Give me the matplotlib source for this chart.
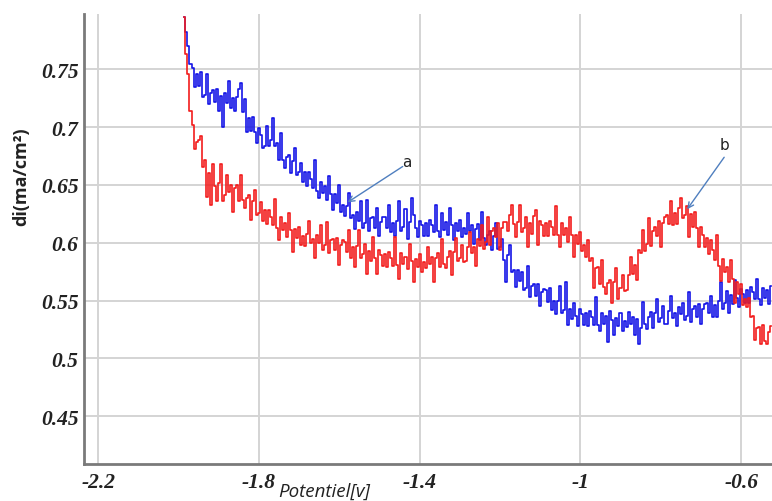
import matplotlib
matplotlib.use("Agg")
import matplotlib.pyplot as plt

# Potential sweep (V)
potential = [
    -1.985, -1.980, -1.975, -1.970, -1.965, -1.960, -1.955, -1.950, -1.945, -1.940,
    -1.935, -1.930, -1.925, -1.920, -1.915, -1.910, -1.905, -1.900, -1.895, -1.890,
    -1.885, -1.880, -1.875, -1.870, -1.865, -1.860, -1.855, -1.850, -1.845, -1.840,
    -1.835, -1.830, -1.825, -1.820, -1.815, -1.810, -1.805, -1.800, -1.795, -1.790,
    -1.785, -1.780, -1.775, -1.770, -1.765, -1.760, -1.755, -1.750, -1.745, -1.740,
    -1.735, -1.730, -1.725, -1.720, -1.715, -1.710, -1.705, -1.700, -1.695, -1.690,
    -1.685, -1.680, -1.675, -1.670, -1.665, -1.660, -1.655, -1.650, -1.645, -1.640,
    -1.635, -1.630, -1.625, -1.620, -1.615, -1.610, -1.605, -1.600, -1.595, -1.590,
    -1.585, -1.580, -1.575, -1.570, -1.565, -1.560, -1.555, -1.550, -1.545, -1.540,
    -1.535, -1.530, -1.525, -1.520, -1.515, -1.510, -1.505, -1.500, -1.495, -1.490,
    -1.485, -1.480, -1.475, -1.470, -1.465, -1.460, -1.455, -1.450, -1.445, -1.440,
    -1.435, -1.430, -1.425, -1.420, -1.415, -1.410, -1.405, -1.400, -1.395, -1.390,
    -1.385, -1.380, -1.375, -1.370, -1.365, -1.360, -1.355, -1.350, -1.345, -1.340,
    -1.335, -1.330, -1.325, -1.320, -1.315, -1.310, -1.305, -1.300, -1.295, -1.290,
    -1.285, -1.280, -1.275, -1.270, -1.265, -1.260, -1.255, -1.250, -1.245, -1.240,
    -1.235, -1.230, -1.225, -1.220, -1.215, -1.210, -1.205, -1.200, -1.195, -1.190,
    -1.185, -1.180, -1.175, -1.170, -1.165, -1.160, -1.155, -1.150, -1.145, -1.140,
    -1.135, -1.130, -1.125, -1.120, -1.115, -1.110, -1.105, -1.100, -1.095, -1.090,
    -1.085, -1.080, -1.075, -1.070, -1.065, -1.060, -1.055, -1.050, -1.045, -1.040,
    -1.035, -1.030, -1.025, -1.020, -1.015, -1.010, -1.005, -1.000, -0.995, -0.990,
    -0.985, -0.980, -0.975, -0.970, -0.965, -0.960, -0.955, -0.950, -0.945, -0.940,
    -0.935, -0.930, -0.925, -0.920, -0.915, -0.910, -0.905, -0.900, -0.895, -0.890,
    -0.885, -0.880, -0.875, -0.870, -0.865, -0.860, -0.855, -0.850, -0.845, -0.840,
    -0.835, -0.830, -0.825, -0.820, -0.815, -0.810, -0.805, -0.800, -0.795, -0.790,
    -0.785, -0.780, -0.775, -0.770, -0.765, -0.760, -0.755, -0.750, -0.745, -0.740,
    -0.735, -0.730, -0.725, -0.720, -0.715, -0.710, -0.705, -0.700, -0.695, -0.690,
    -0.685, -0.680, -0.675, -0.670, -0.665, -0.660, -0.655, -0.650, -0.645, -0.640,
    -0.635, -0.630, -0.625, -0.620, -0.615, -0.610, -0.605, -0.600, -0.595, -0.590,
    -0.585, -0.580, -0.575, -0.570, -0.565, -0.560, -0.555, -0.550, -0.545, -0.540,
    -0.535, -0.530, -0.525,
]

# curve b (red)
current_b = [
    0.795, 0.763, 0.746, 0.714, 0.702, 0.681, 0.687, 0.689, 0.692, 0.666,
    0.672, 0.640, 0.660, 0.633, 0.668, 0.649, 0.636, 0.652, 0.668, 0.636,
    0.641, 0.659, 0.644, 0.650, 0.627, 0.647, 0.650, 0.636, 0.659, 0.637,
    0.630, 0.639, 0.641, 0.620, 0.636, 0.646, 0.624, 0.626, 0.635, 0.619,
    0.628, 0.616, 0.628, 0.622, 0.615, 0.638, 0.613, 0.602, 0.622, 0.611,
    0.617, 0.605, 0.626, 0.611, 0.592, 0.612, 0.604, 0.614, 0.598, 0.606,
    0.597, 0.608, 0.619, 0.600, 0.603, 0.587, 0.607, 0.600, 0.615, 0.594,
    0.598, 0.618, 0.591, 0.602, 0.603, 0.594, 0.604, 0.581, 0.598, 0.602,
    0.601, 0.592, 0.611, 0.587, 0.596, 0.579, 0.597, 0.611, 0.587, 0.590,
    0.599, 0.573, 0.593, 0.584, 0.605, 0.587, 0.573, 0.594, 0.589, 0.580,
    0.590, 0.579, 0.592, 0.587, 0.580, 0.605, 0.581, 0.569, 0.591, 0.582,
    0.588, 0.577, 0.599, 0.584, 0.566, 0.586, 0.579, 0.590, 0.575, 0.583,
    0.578, 0.596, 0.582, 0.588, 0.566, 0.587, 0.591, 0.579, 0.603, 0.582,
    0.578, 0.588, 0.593, 0.572, 0.592, 0.604, 0.584, 0.587, 0.598, 0.583,
    0.584, 0.596, 0.609, 0.591, 0.596, 0.580, 0.603, 0.597, 0.615, 0.595,
    0.601, 0.622, 0.598, 0.610, 0.613, 0.605, 0.617, 0.594, 0.613, 0.618,
    0.618, 0.610, 0.624, 0.633, 0.616, 0.605, 0.618, 0.633, 0.609, 0.613,
    0.622, 0.596, 0.617, 0.608, 0.623, 0.628, 0.598, 0.619, 0.615, 0.606,
    0.617, 0.606, 0.619, 0.614, 0.607, 0.632, 0.607, 0.596, 0.617, 0.607,
    0.613, 0.601, 0.622, 0.607, 0.588, 0.607, 0.599, 0.609, 0.593, 0.598,
    0.588, 0.602, 0.584, 0.587, 0.561, 0.578, 0.579, 0.564, 0.585, 0.562,
    0.556, 0.565, 0.568, 0.548, 0.566, 0.578, 0.551, 0.561, 0.572, 0.558,
    0.559, 0.572, 0.588, 0.573, 0.581, 0.568, 0.594, 0.591, 0.611, 0.593,
    0.599, 0.621, 0.597, 0.610, 0.614, 0.606, 0.619, 0.596, 0.617, 0.622,
    0.624, 0.616, 0.636, 0.615, 0.626, 0.616, 0.630, 0.639, 0.621, 0.624,
    0.632, 0.605, 0.625, 0.614, 0.627, 0.613, 0.596, 0.614, 0.607, 0.596,
    0.604, 0.590, 0.602, 0.594, 0.585, 0.607, 0.580, 0.567, 0.586, 0.575,
    0.579, 0.566, 0.585, 0.569, 0.548, 0.566, 0.556, 0.564, 0.546, 0.551,
    0.544, 0.552, 0.536, 0.537, 0.516, 0.526, 0.527, 0.512, 0.529, 0.515,
    0.512, 0.523, 0.528,
]

# curve a (blue)
current_a = [
    0.795, 0.782, 0.770, 0.755, 0.751, 0.735, 0.746, 0.736, 0.748, 0.726,
    0.728, 0.746, 0.720, 0.730, 0.732, 0.722, 0.733, 0.714, 0.727, 0.700,
    0.730, 0.721, 0.740, 0.717, 0.725, 0.714, 0.726, 0.733, 0.738, 0.713,
    0.724, 0.696, 0.708, 0.697, 0.709, 0.696, 0.686, 0.699, 0.693, 0.682,
    0.684, 0.701, 0.684, 0.689, 0.708, 0.684, 0.686, 0.672, 0.695, 0.672,
    0.665, 0.674, 0.676, 0.660, 0.671, 0.682, 0.659, 0.661, 0.669, 0.653,
    0.661, 0.649, 0.661, 0.655, 0.647, 0.672, 0.645, 0.639, 0.653, 0.643,
    0.649, 0.637, 0.658, 0.642, 0.628, 0.642, 0.634, 0.650, 0.627, 0.633,
    0.623, 0.632, 0.643, 0.621, 0.624, 0.612, 0.627, 0.619, 0.636, 0.613,
    0.617, 0.637, 0.610, 0.621, 0.622, 0.613, 0.630, 0.606, 0.618, 0.622,
    0.622, 0.613, 0.633, 0.609, 0.617, 0.606, 0.619, 0.636, 0.610, 0.614,
    0.629, 0.603, 0.618, 0.639, 0.624, 0.613, 0.605, 0.619, 0.615, 0.606,
    0.617, 0.606, 0.620, 0.615, 0.609, 0.633, 0.610, 0.605, 0.626, 0.611,
    0.618, 0.607, 0.630, 0.615, 0.602, 0.617, 0.610, 0.620, 0.605, 0.613,
    0.608, 0.626, 0.610, 0.615, 0.599, 0.612, 0.616, 0.602, 0.627, 0.604,
    0.598, 0.607, 0.610, 0.594, 0.606, 0.617, 0.595, 0.596, 0.603, 0.585,
    0.566, 0.589, 0.598, 0.575, 0.576, 0.562, 0.576, 0.567, 0.575, 0.559,
    0.561, 0.580, 0.553, 0.563, 0.564, 0.554, 0.564, 0.545, 0.557, 0.560,
    0.559, 0.549, 0.561, 0.542, 0.550, 0.538, 0.550, 0.563, 0.539, 0.542,
    0.566, 0.529, 0.543, 0.534, 0.548, 0.537, 0.528, 0.543, 0.538, 0.529,
    0.539, 0.528, 0.541, 0.536, 0.529, 0.553, 0.529, 0.524, 0.539, 0.530,
    0.537, 0.514, 0.541, 0.533, 0.520, 0.535, 0.528, 0.539, 0.524, 0.532,
    0.527, 0.540, 0.530, 0.536, 0.520, 0.534, 0.512, 0.526, 0.549, 0.530,
    0.525, 0.536, 0.540, 0.526, 0.539, 0.551, 0.531, 0.535, 0.545, 0.530,
    0.530, 0.541, 0.554, 0.535, 0.539, 0.528, 0.544, 0.538, 0.548, 0.533,
    0.537, 0.557, 0.531, 0.543, 0.545, 0.536, 0.547, 0.530, 0.543, 0.547,
    0.548, 0.539, 0.554, 0.536, 0.546, 0.536, 0.550, 0.566, 0.543, 0.548,
    0.558, 0.539, 0.555, 0.547, 0.568, 0.552, 0.544, 0.560, 0.556, 0.548,
    0.559, 0.548, 0.562, 0.557, 0.551, 0.569, 0.551, 0.546, 0.561, 0.552,
    0.559, 0.547, 0.563,
]

x_ticks = [-2.2, -1.8, -1.4, -1.0, -0.6]
x_tick_labels = ["-2.2", "-1.8", "-1.4", "-1", "-0.6"]
y_ticks = [0.45, 0.5, 0.55, 0.6, 0.65, 0.7, 0.75]
y_tick_labels = ["0.45", "0.5", "0.55", "0.6", "0.65", "0.7", "0.75"]

fig = plt.figure(figsize=(7.72, 5.02), dpi=100)
ax = fig.add_axes([84 / 772, 1 - 465 / 502, 1 - 84 / 772, (465 - 15) / 502])

ax.plot(potential, current_a, color="#1414e6", lw=1.2, drawstyle="steps-mid", zorder=3)
ax.plot(potential, current_b, color="#f21c1c", lw=1.2, drawstyle="steps-mid", zorder=3)

ax.set_xlim(-2.235, -0.523)
ax.set_ylim(0.4085, 0.798)
ax.set_xticks(x_ticks)
ax.set_xticklabels(x_tick_labels)
ax.set_yticks(y_ticks)
ax.set_yticklabels(y_tick_labels)

for lab in ax.get_xticklabels() + ax.get_yticklabels():
    lab.set_fontfamily("Liberation Serif")
    lab.set_fontweight("bold")
    lab.set_fontstyle("italic")
    lab.set_fontsize(15.5)
    lab.set_color("#222222")
ax.tick_params(axis="both", length=0)
ax.tick_params(axis="y", pad=4)
ax.tick_params(axis="x", pad=6)

ax.grid(True, color="#d4d4d4", lw=1.4, zorder=0)
ax.set_axisbelow(True)
for s in ["top", "right"]:
    ax.spines[s].set_visible(False)
for s in ["left", "bottom"]:
    ax.spines[s].set_color("#7a7a7a")
    ax.spines[s].set_linewidth(2.0)

arrow_color = "#4f7fbf"
ax.annotate("", xy=(-1.579, 0.635), xytext=(-1.442, 0.666),
            arrowprops=dict(arrowstyle="->", color=arrow_color, lw=1.0,
                            shrinkA=0, shrinkB=0), zorder=5)
ax.text(-1.432, 0.670, "a", fontsize=11, color="#222222", ha="center", va="center",
        family="DejaVu Sans", zorder=5)
ax.annotate("", xy=(-0.734, 0.629), xytext=(-0.642, 0.674),
            arrowprops=dict(arrowstyle="->", color=arrow_color, lw=1.0,
                            shrinkA=0, shrinkB=0), zorder=5)
ax.text(-0.642, 0.685, "b", fontsize=11, color="#222222", ha="center", va="center",
        family="DejaVu Sans", zorder=5)

fig.text(324 / 772, 1 - 492 / 502, "Potentiel[v]", fontsize=13.5, style="italic",
         family="Open Sans", ha="center", va="center", color="#222222")
fig.text(21 / 772, 1 - 177 / 502, "di(ma/cm²)", fontsize=13, weight="bold",
         family="Open Sans", rotation=90, ha="center", va="center", color="#222222")

fig.savefig("out.png", dpi=100)
